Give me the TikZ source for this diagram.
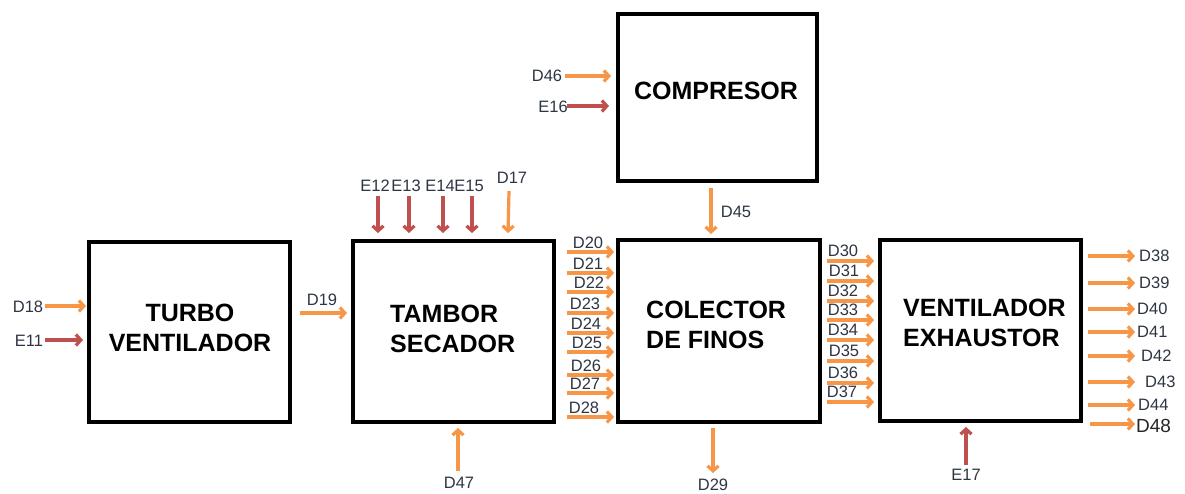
\documentclass[tikz,border=0pt]{standalone}
\usepackage{fontspec}
\setmainfont{Liberation Sans}
\usetikzlibrary{arrows.meta}
\definecolor{orng}{HTML}{F79646}
\definecolor{redd}{HTML}{C0504D}
\definecolor{lblc}{HTML}{2E3644}
\begin{document}
\begin{tikzpicture}[x=1pt,y=-1pt,
  box/.style={draw=black,line width=3.6pt,inner sep=0pt,fill=white},
  title/.style={font=\fontsize{25}{30}\selectfont\bfseries,text=black,inner sep=0pt},
  lbl/.style={font=\fontsize{16.5}{17}\selectfont,text=lblc,inner sep=0pt},
  oarr/.style={draw=orng,line width=3.2pt,-{Straight Barb[length=5pt,width=11pt]}},
  rarr/.style={draw=redd,line width=3.2pt,-{Straight Barb[length=5pt,width=11pt]}}]
\useasboundingbox[fill=white] (0,0) rectangle (1185,493);

% boxes
\node[box,minimum width=201pt,minimum height=180pt] (turbo) at (189.5,332) {};
\node[box,minimum width=201pt,minimum height=181pt] (tambor) at (453.5,331.5) {};
\node[box,minimum width=202pt,minimum height=182pt] (colector) at (719,331) {};
\node[box,minimum width=201pt,minimum height=181pt] (exhaustor) at (980.5,330.5) {};
\node[box,minimum width=199pt,minimum height=167pt] (compresor) at (717.5,97.5) {};

% box titles
\node[title,align=center] (tTurbo) at (190,328) {TURBO\\VENTILADOR};
\node[title,align=left,anchor=west] (tTambor) at (390,329) {TAMBOR\\SECADOR};
\node[title,align=left,anchor=west] (tColector) at (646,324.5) {COLECTOR\\DE FINOS};
\node[title,align=left,anchor=west] (tExhaustor) at (903,323) {VENTILADOR\\EXHAUSTOR};
\node[title] (tCompresor) at (716,91) {COMPRESOR};

% turbo inputs
\node[lbl] (lD18) at (28,307) {D18};
\node[lbl] (lE11) at (29,341) {E11};
\coordinate (sD18) at (45,306);
\coordinate (eD18) at (86,306);
\coordinate (sE11) at (45,340);
\coordinate (eE11) at (83,340);
\draw[oarr] (sD18) -- (eD18);
\draw[rarr] (sE11) -- (eE11);

% D19
\node[lbl] (lD19) at (322,300) {D19};
\coordinate (sD19) at (300,313);
\coordinate (eD19) at (347,313);
\draw[oarr] (sD19) -- (eD19);

% tambor top inputs
\foreach \n/\x in {12/378,13/409,14/443,15/472}{
  \node[lbl] (lE\n) at ({\x-3},186) {E\n};
  \coordinate (sE\n) at (\x,196);
  \coordinate (eE\n) at (\x,233);
  \draw[rarr] (sE\n) -- (eE\n);
}
\node[lbl] (lD17) at (512,178) {D17};
\coordinate (sD17) at (509,191);
\coordinate (eD17) at (508,233);
\draw[oarr] (sD17) -- (eD17);

% D47
\node[lbl] (lD47) at (459,483) {D47};
\coordinate (sD47) at (458,471);
\coordinate (eD47) at (458,428);
\draw[oarr] (sD47) -- (eD47);

% tambor -> colector
\foreach \n/\y/\xl in {20/252/588,21/273/588,22/292/589,23/313/585,24/333/586,25/352/587,26/375/586,27/393/585,28/417/584}{
  \coordinate (sD\n) at (567,\y);
  \coordinate (eD\n) at (614,\y);
  \draw[oarr] (sD\n) -- (eD\n);
  \node[lbl] (lD\n) at (\xl,{\y-9.5}) {D\n};
}

% compresor inputs
\node[lbl] (lD46) at (547,76) {D46};
\node[lbl] (lE16) at (553,107) {E16};
\coordinate (sD46) at (565,76);
\coordinate (eD46) at (611,76);
\coordinate (sE16) at (567,106);
\coordinate (eE16) at (609,106);
\draw[oarr] (sD46) -- (eD46);
\draw[rarr] (sE16) -- (eE16);

% D45
\coordinate (sD45) at (711,188);
\coordinate (eD45) at (711,234);
\draw[oarr] (sD45) -- (eD45);
\node[lbl] (lD45) at (736,212) {D45};

% D29
\coordinate (sD29) at (713,428);
\coordinate (eD29) at (713,473);
\draw[oarr] (sD29) -- (eD29);
\node[lbl] (lD29) at (713,485) {D29};

% colector -> exhaustor
\foreach \n/\y/\xl in {30/261/843,31/281/844,32/301/843,33/320/843,34/340/843,35/361/844,36/383/843,37/402/842}{
  \coordinate (sD\n) at (827,\y);
  \coordinate (eD\n) at (874,\y);
  \draw[oarr] (sD\n) -- (eD\n);
  \node[lbl] (lD\n) at (\xl,{\y-10}) {D\n};
}

% E17
\coordinate (sE17) at (966,465);
\coordinate (eE17) at (966,427);
\draw[rarr] (sE17) -- (eE17);
\node[lbl] (lE17) at (966,475) {E17};

% exhaustor outputs
\foreach \n/\y/\xl in {38/256/1139,39/283/1139,40/309/1137,41/332/1137,42/356/1141,43/382/1145,44/405/1138}{
  \coordinate (sD\n) at (1088,\y);
  \coordinate (eD\n) at (1135,\y);
  \draw[oarr] (sD\n) -- (eD\n);
  \node[lbl,anchor=west] (lD\n) at (\xl,\y) {D\n};
}
\coordinate (sD48) at (1090,424);
\coordinate (eD48) at (1135,424);
\draw[oarr] (sD48) -- (eD48);
\node[lbl,anchor=west,font=\fontsize{19}{19}\selectfont,text=black!85] (lD48) at (1136,426) {D48};
\end{tikzpicture}
\end{document}
